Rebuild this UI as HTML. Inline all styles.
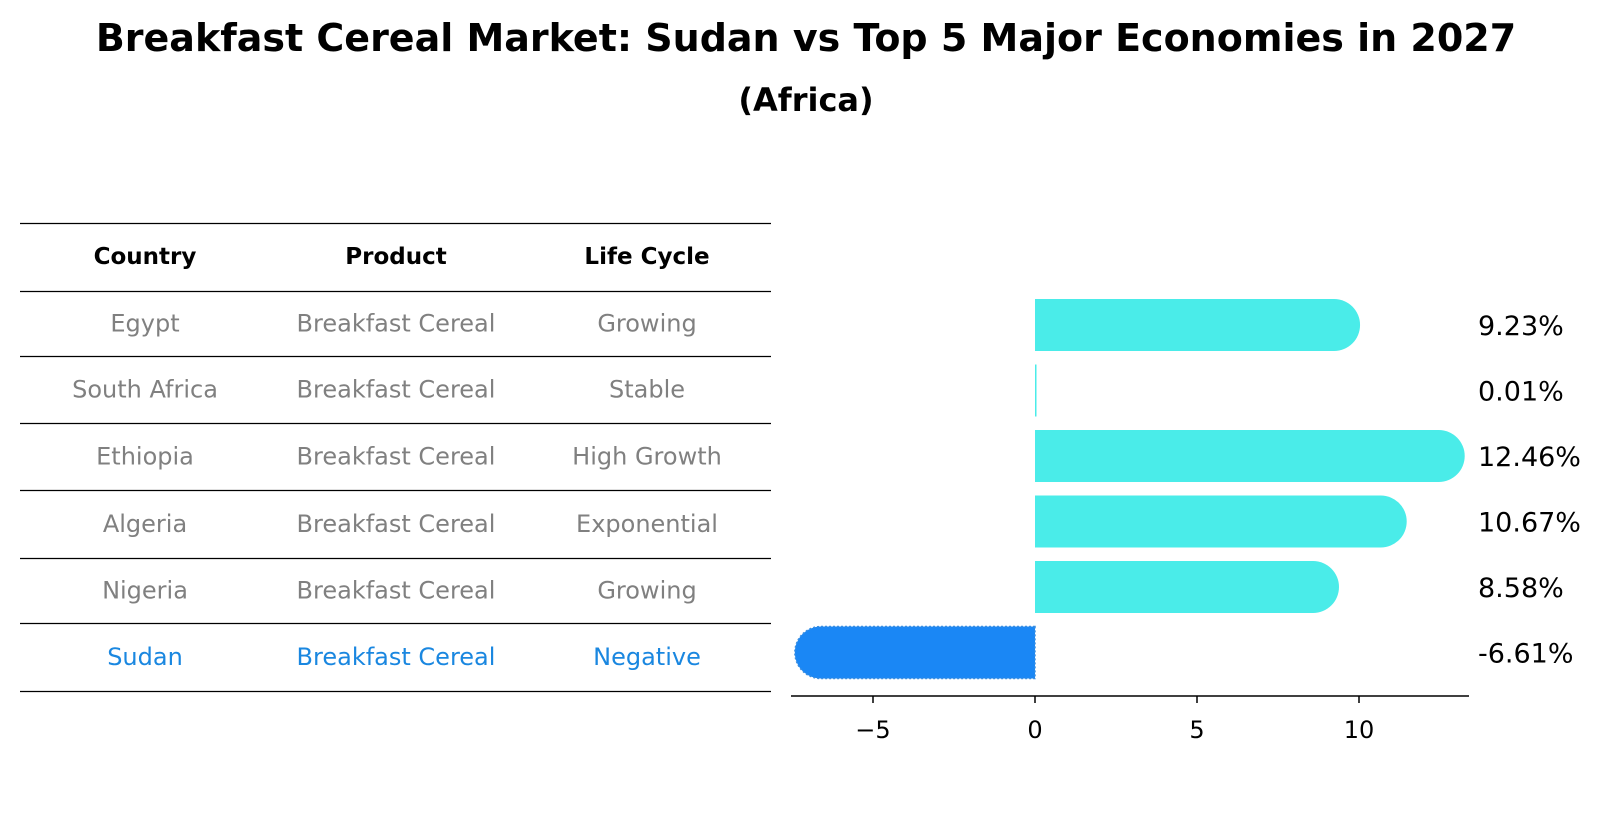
<!DOCTYPE html>
<html><head><meta charset="utf-8"><style>
body{margin:0;background:#fff;}
svg{display:block;font-family:"DejaVu Sans","Liberation Sans",sans-serif;}
</style></head><body>
<svg id="c" width="1604" height="823" viewBox="0 0 1604 823">
<text x="806" y="51" text-anchor="middle" font-size="38" font-weight="bold">Breakfast Cereal Market: Sudan vs Top 5 Major Economies in 2027</text>
<text x="806" y="111" text-anchor="middle" font-size="32" font-weight="bold">(Africa)</text>
<g id="table"></g>
<g id="bars"></g>
</svg>
<script>
const countries=["Egypt","South Africa","Ethiopia","Algeria","Nigeria","Sudan"];
const products=["Breakfast Cereal","Breakfast Cereal","Breakfast Cereal","Breakfast Cereal","Breakfast Cereal","Breakfast Cereal"];
const lifeCycles=["Growing","Stable","High Growth","Exponential","Growing","Negative"];
const growth=[9.23,0.01,12.46,10.67,8.58,-6.61];
const tickVals=[-5,0,5,10];
const tickLabels=["\u22125","0","5","10"];

const NS="http://www.w3.org/2000/svg";
function mk(tag,attrs,parent,text){const e=document.createElementNS(NS,tag);for(const k in attrs)e.setAttribute(k,attrs[k]);if(text!==undefined)e.textContent=text;parent.appendChild(e);return e;}
const table=document.getElementById('table');
const bars=document.getElementById('bars');
const lineYs=[223,291,356,423,490,558,623,691];
const colX=[145,396,647];
lineYs.forEach((y,i)=>{const l=mk('line',{x1:20,x2:771,y1:y+0.5,y2:y+0.5,stroke:'#000','stroke-width':1.2},table);

});
const heads=["Country","Product","Life Cycle"];
heads.forEach((h,i)=>{const t=mk('text',{x:colX[i],y:264,'text-anchor':'middle','font-size':23,'font-weight':'bold'},table,h);

});
countries.forEach((c,r)=>{
 const y=(lineYs[r+1]+lineYs[r+2])/2+8;
 const col=c==="Sudan"?"#1a87e0":"#808080";
 [c,products[r],lifeCycles[r]].forEach((v,i)=>{const t=mk('text',{x:colX[i],y:y,'text-anchor':'middle','font-size':24,fill:col},table,v);
 
 });
});
const x0=1035, ppu=32.4;
const xs=v=>x0+v*ppu;
const rowY=i=>325+i*65.5;
const h=52, r=26;
const ax=mk('line',{x1:791,x2:1469,y1:696,y2:696,stroke:'#000','stroke-width':1.5},bars);


tickVals.forEach((v,i)=>{
 const tk=mk('line',{x1:xs(v),x2:xs(v),y1:696,y2:703,stroke:'#000','stroke-width':1.5},bars);
 
 
 const tl=mk('text',{x:xs(v),y:738,'text-anchor':'middle','font-size':24},bars,tickLabels[i]);
 
 
});
growth.forEach((v,i)=>{
 const cy=rowY(i), top=cy-h/2;
 const xe=xs(v);
 const w=Math.abs(xe-x0);
 let d;
 if(w<r){ d=`M${x0},${top} H${x0+(v>=0?Math.max(w,1.5):-Math.max(w,1.5))} V${top+h} H${x0} Z`; }
 else if(v>=0){ d=`M${x0},${top} H${xe} A${r},${r} 0 0 1 ${xe},${top+h} H${x0} Z`; }
 else { d=`M${x0},${top} H${xe} A${r},${r} 0 0 0 ${xe},${top+h} H${x0} Z`; }
 const col=v<0?"#1a87f5":"#4aece9";
 const b=mk('path',{d:d,fill:col},bars);
 if(v<0){b.setAttribute('stroke','#3a8ee0');b.setAttribute('stroke-dasharray','2,2');b.setAttribute('stroke-width','1.5');}
 
 
 const t=mk('text',{x:1478,y:cy+10,'font-size':27},bars,v.toFixed(2)+'%');
 
 
});
</script>
</body></html>
